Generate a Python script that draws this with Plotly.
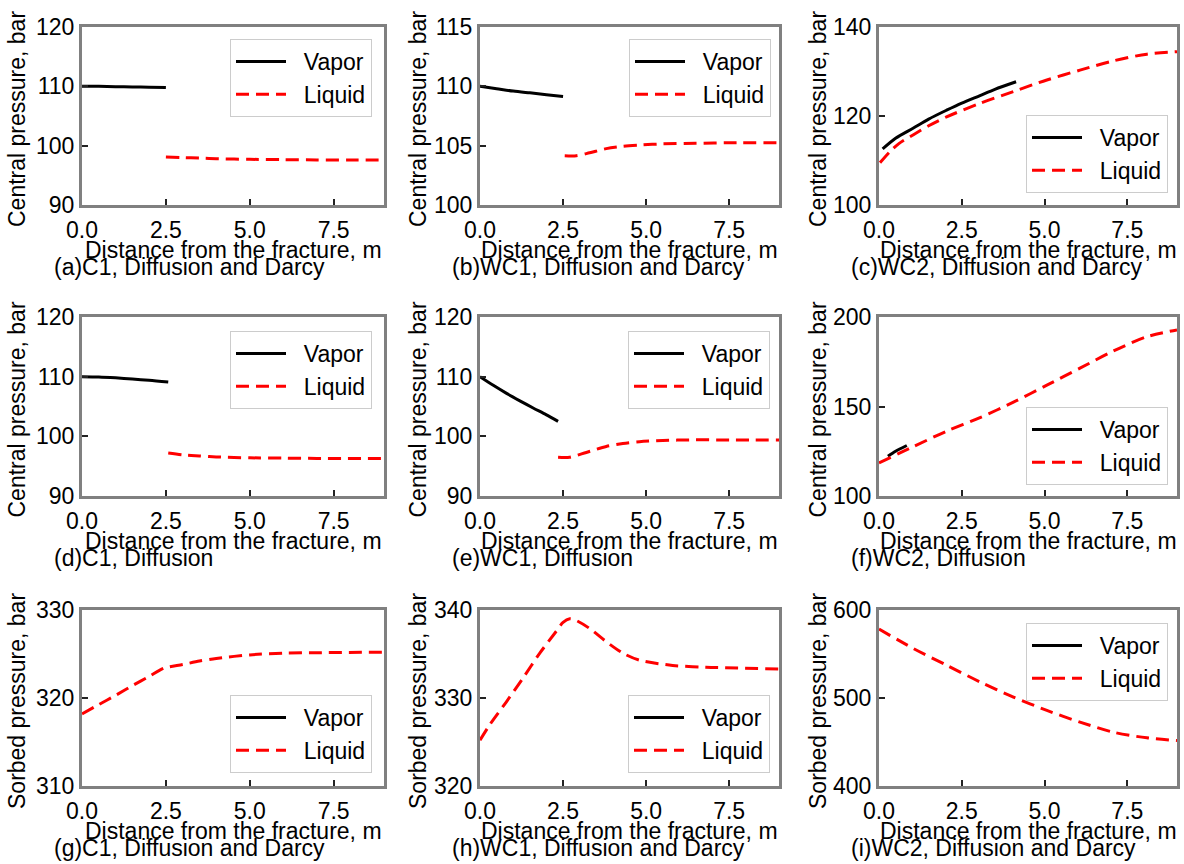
import plotly.graph_objects as go

# ---------------- data ----------------
a_vap_x = [0, 0.5, 1.0, 1.5, 2.0, 2.5]
a_vap_y = [110.0, 110.0, 109.95, 109.9, 109.85, 109.8]
a_liq_x = [2.5, 3.0, 3.5, 4.0, 5.0, 6.0, 7.0, 8.0, 9.0]
a_liq_y = [98.1, 98.0, 97.9, 97.8, 97.7, 97.65, 97.6, 97.6, 97.6]

b_vap_x = [0, 0.5, 1.0, 1.5, 2.0, 2.5]
b_vap_y = [110.0, 109.8, 109.6, 109.45, 109.3, 109.15]
b_liq_x = [2.55, 2.9, 3.3, 3.8, 4.3, 4.8, 5.5, 6.5, 7.5, 9.0]
b_liq_y = [104.15, 104.15, 104.4, 104.75, 104.95, 105.05, 105.15, 105.2, 105.25, 105.25]

c_vap_x = [0.11, 0.5, 1.04, 1.5, 2.04, 2.5, 3.05, 3.5, 4.14]
c_vap_y = [112.6, 115.0, 117.3, 119.3, 121.3, 122.9, 124.6, 126.0, 127.7]
c_liq_x = [0.03, 0.33, 0.6, 1.04, 1.5, 2.04, 3.05, 4.06, 5.07, 6.07, 7.08, 8.09, 9.0]
c_liq_y = [109.5, 112.0, 113.8, 115.8, 117.8, 119.8, 122.85, 125.5, 128.1, 130.3, 132.4, 133.9, 134.45]

d_vap_x = [0, 0.5, 1.0, 1.5, 2.0, 2.57]
d_vap_y = [110.0, 109.95, 109.8, 109.6, 109.4, 109.1]
d_liq_x = [2.57, 3.0, 3.5, 4.0, 5.0, 6.0, 7.0, 9.0]
d_liq_y = [97.2, 96.9, 96.7, 96.55, 96.4, 96.35, 96.3, 96.3]

e_vap_x = [0, 0.4, 0.8, 1.2, 1.6, 2.0, 2.35]
e_vap_y = [110.0, 108.55, 107.2, 105.95, 104.75, 103.6, 102.5]
e_liq_x = [2.35, 2.7, 3.2, 3.8, 4.3, 4.8, 5.5, 6.3, 7.5, 9.0]
e_liq_y = [96.5, 96.5, 97.3, 98.3, 98.8, 99.1, 99.3, 99.4, 99.4, 99.4]

f_vap_x = [0.27, 0.5, 0.84]
f_vap_y = [122.2, 125.0, 128.2]
f_liq_x = [0, 1.04, 2.04, 3.05, 4.06, 5.07, 6.07, 7.08, 8.09, 9.0]
f_liq_y = [118.5, 127.6, 136.2, 143.8, 152.4, 161.9, 171.4, 181.0, 189.0, 192.8]

g_liq_x = [0, 0.5, 1.0, 1.5, 2.0, 2.45, 3.0, 3.5, 4.0, 5.0, 6.0, 7.0, 9.0]
g_liq_y = [318.2, 319.25, 320.3, 321.4, 322.45, 323.4, 323.8, 324.2, 324.5, 324.9, 325.1, 325.15, 325.2]

h_liq_x = [0, 0.3, 0.8, 1.3, 1.8, 2.3, 2.5, 2.7, 2.9, 3.3, 3.8, 4.3, 4.8, 5.8, 6.8, 9.0]
h_liq_y = [325.2, 327.0, 329.6, 332.3, 335.1, 337.6, 338.6, 339.0, 338.8, 337.9, 336.4, 335.1, 334.3, 333.7, 333.5, 333.3]

i_liq_x = [0, 1.04, 2.04, 3.05, 4.06, 5.07, 6.07, 7.08, 8.09, 9.0]
i_liq_y = [578.3, 556.2, 537.3, 518.3, 501.1, 485.9, 472.6, 461.1, 454.7, 451.6]

x_ticks = [0, 2.5, 5.0, 7.5]
y_ticks = [
    [90, 100, 110, 120], [100, 105, 110, 115], [100, 120, 140],
    [90, 100, 110, 120], [90, 100, 110, 120], [100, 150, 200],
    [310, 320, 330], [320, 330, 340], [400, 500, 600],
]
series_names = ["Vapor", "Liquid"]
y_titles = ["Central pressure, bar"] * 6 + ["Sorbed pressure, bar"] * 3
captions = [
    "(a)C1, Diffusion and Darcy", "(b)WC1, Diffusion and Darcy", "(c)WC2, Diffusion and Darcy",
    "(d)C1, Diffusion", "(e)WC1, Diffusion", "(f)WC2, Diffusion",
    "(g)C1, Diffusion and Darcy", "(h)WC1, Diffusion and Darcy", "(i)WC2, Diffusion and Darcy",
]
x_title = "Distance from the fracture, m"

panels = [
    (a_vap_x, a_vap_y, a_liq_x, a_liq_y),
    (b_vap_x, b_vap_y, b_liq_x, b_liq_y),
    (c_vap_x, c_vap_y, c_liq_x, c_liq_y),
    (d_vap_x, d_vap_y, d_liq_x, d_liq_y),
    (e_vap_x, e_vap_y, e_liq_x, e_liq_y),
    (f_vap_x, f_vap_y, f_liq_x, f_liq_y),
    ([None], [None], g_liq_x, g_liq_y),
    ([None], [None], h_liq_x, h_liq_y),
    ([None], [None], i_liq_x, i_liq_y),
]

# ---------------- layout geometry (pixels) ----------------
W, H = 1184, 864
cols = [(82, 384), (480, 779), (879, 1177)]
rows = [(27, 205), (317, 496), (610, 786)]
ytitle_x = [17, 418, 818]
legend_pos = [
    (372, 39, "right", "top"), (771, 39, "right", "top"), (1168, 193, "right", "bottom"),
    (372, 331, "right", "top"), (770, 331, "right", "top"), (1168, 485, "right", "bottom"),
    (372, 773, "right", "bottom"), (770, 773, "right", "bottom"), (1168, 623, "right", "top"),
]

FONT = "Liberation Sans, Arial, sans-serif"
FS = 23
GAP = "\u00a0\u00a0"  # small gap between legend sample and label
fig = go.Figure()
annotations = []
layout = dict(
    width=W, height=H, margin=dict(l=0, r=0, t=0, b=0, pad=0, autoexpand=False),
    paper_bgcolor="white", plot_bgcolor="white",
    font=dict(family=FONT, size=FS, color="black"),
    showlegend=True,
)

def px(x):
    return x / W

def py(y):
    return 1 - y / H

for k, (vx, vy, lx, ly) in enumerate(panels):
    r, c = divmod(k, 3)
    idx = "" if k == 0 else str(k + 1)
    xa, ya = "x" + idx, "y" + idx
    leg = "legend" + idx
    fig.add_trace(go.Scatter(x=vx, y=vy, mode="lines", name=GAP + series_names[0],
                             line=dict(color="black", width=3, shape="spline", smoothing=0.8),
                             xaxis=xa, yaxis=ya, legend=leg))
    fig.add_trace(go.Scatter(x=lx, y=ly, mode="lines", name=GAP + series_names[1],
                             line=dict(color="red", width=3, dash="13px,7px",
                                       shape="spline", smoothing=0.8),
                             xaxis=xa, yaxis=ya, legend=leg))
    x0, x1 = cols[c]
    y0, y1 = rows[r]
    yt = y_ticks[k]
    layout["xaxis" + idx] = dict(
        domain=[px(x0), px(x1)], anchor=ya, range=[0, 9],
        tickvals=x_ticks, tickformat=".1f", ticks="inside", ticklen=6,
        tickwidth=1.5, tickcolor="#222", showline=True, mirror=True,
        linecolor="#808080", linewidth=3, showgrid=False, zeroline=False,
        automargin=False, ticklabelstandoff=2,
        tickfont=dict(size=FS, family=FONT, color="black"),
    )
    layout["yaxis" + idx] = dict(
        domain=[py(y1), py(y0)], anchor=xa, range=[yt[0], yt[-1]],
        tickvals=yt, ticks="inside", ticklen=6,
        tickwidth=1.5, tickcolor="#222", showline=True, mirror=True,
        linecolor="#808080", linewidth=3, showgrid=False, zeroline=False,
        automargin=False,
        tickfont=dict(size=FS, family=FONT, color="black"),
    )
    lxp, lyp, xan, yan = legend_pos[k]
    layout[leg] = dict(
        x=px(lxp), y=py(lyp), xanchor=xan, yanchor=yan,
        xref="paper", yref="paper",
        bgcolor="white", bordercolor="#cccccc", borderwidth=1,
        font=dict(size=FS, family=FONT, color="black"),
        itemwidth=50, tracegroupgap=0,
    )
    annotations.append(dict(
        text=x_title, x=px((x0 + x1) / 2), y=py(y1 + 45), xref="paper", yref="paper",
        xanchor="center", yanchor="middle", showarrow=False,
        font=dict(size=FS, family=FONT, color="black")))
    annotations.append(dict(
        text=captions[k], x=px(x0 - 30), y=py(y1 + 62), xref="paper", yref="paper",
        xanchor="left", yanchor="middle", showarrow=False,
        font=dict(size=FS, family=FONT, color="black")))
    annotations.append(dict(
        text=y_titles[k], x=px(ytitle_x[c]), y=py((y0 + y1) / 2 + 3), xref="paper", yref="paper",
        xanchor="center", yanchor="middle", showarrow=False, textangle=-90,
        font=dict(size=FS, family=FONT, color="black")))

layout["annotations"] = annotations
fig.update_layout(**layout)
fig.write_html("out.html")
